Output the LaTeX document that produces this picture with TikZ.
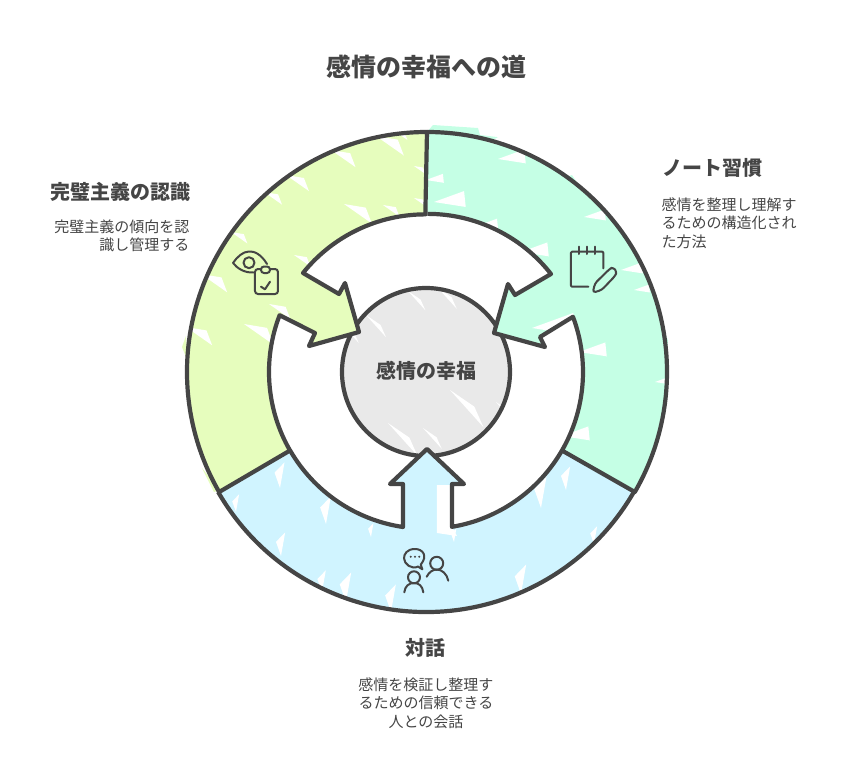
\documentclass[tikz,border=0pt]{standalone}
\usepackage{fontspec}
\setmainfont{Noto Sans CJK JP}
\usetikzlibrary{positioning}
\definecolor{ink}{HTML}{454545}
\definecolor{greenfill}{HTML}{E6FDBD}
\definecolor{mintfill}{HTML}{C5FFE5}
\definecolor{bluefill}{HTML}{D0F4FF}
\definecolor{greyfill}{HTML}{E9E9E9}

\begin{document}
\begin{tikzpicture} [
    x=1pt, y=1pt,                  % One unit is one pixel of the reference
    line join=round,
    ]
% -------------------------------------------------
\tikzset{
  outline/.style={draw=ink, line width=4.2pt},
  icon/.style={draw=ink, line width=2pt, line cap=round},
  title/.style={text=ink, font=\fontsize{25}{30}\selectfont\bfseries},
  head/.style={text=ink, font=\fontsize{20}{24}\selectfont\bfseries},
  body/.style={text=ink, font=\fontsize{15}{18.5}\selectfont},
}
    \useasboundingbox (-426,-408) rectangle (426,372);

% centre circle
    \fill [greyfill] (0,0) circle [radius=84];
    \foreach \x/\y/\l in {24/-18/50, -38/-51/44, -3/-56/28, -60/57/30, -18/81/26, 12/84/28, -78/41/16, 70/-30/20}
      \fill [white] (\x,\y) -- ++(-48:\l) -- ++(114:0.45*\l) -- cycle;
    \node [head] (happy) at (1,1) {感情の幸福};
    \draw [outline] (0,0) circle [radius=84];

% left part
    \fill [greenfill] (1,240) arc [start angle=90, end angle=210, radius=240pt]
      -- (210:157) arc [start angle=210, end angle=158.8, radius=157pt]
      -- (-111,39) -- (-117,26) -- (-67,40) -- (-81,89) -- (-87,78) -- (-123,99)
      arc [start angle=141.2, end angle=90, radius=157pt] -- cycle;
    \fill [greenfill] (-240,36) -- (-244,25) -- (-238,10) -- cycle;
    \fill [greenfill] (-224,-96) -- (-212,-120) -- (-206,-118) -- cycle;
    \foreach \x/\y/\l in {-140/197/28, -95/222/30, -50/236/34, -82/168/34, -162/180/22, -195/140/20,
        -225/98/32, -182/48/36, -240/45/32, -157/68/26, -132/117/20, -43/167/20, -12/206/14, -12/174/14, -30/240/14}
      \fill [white] (\x,\y) -- ++(-35:\l) -- ++(111:0.5*\l) -- cycle;

% right part
    \fill [mintfill] (1,240) arc [start angle=90, end angle=-30, radius=240pt]
      -- (-30:157) arc [start angle=-30, end angle=20.6, radius=157pt]
      -- (114,35) -- (119,25) -- (68,39) -- (82,88) -- (89,77) -- (125,98)
      arc [start angle=38.1, end angle=90, radius=157pt] -- cycle;
    \fill [mintfill] (1,240) -- (7,247) -- (52,244) -- (54,237) -- (71,235) -- (78,225) -- cycle;
    \fill [mintfill] (140,195) -- (146,197) -- (152,188) -- cycle;
    \fill [mintfill] (238,40) -- (242,32) -- (240,10) -- cycle;
    \foreach \x/\y/\l in {8/170/32, 0/192/18, 72/213/28, 40/142/33, 95/120/28, 158/155/22,
        195/102/22, 208/82/16, 153/20/28, 106/44/44, 136/-64/28, 60/230/16, 229/-10/14}
      \fill [white] (\x,\y) -- ++(20:\l) -- ++(-84:0.5*\l) -- cycle;

% bottom part
    \fill [bluefill] (210:240) arc [start angle=210, end angle=330, radius=240pt]
      -- (-30:157) arc [start angle=-30, end angle=-80.5, radius=157pt]
      -- (26,-112) -- (38,-112) -- (1,-77) -- (-36,-112) -- (-23,-112) -- (-23,-155)
      arc [start angle=261.6, end angle=210, radius=157pt] -- cycle;
    \fill [white] (11,-113) -- (26,-113) -- (26,-155) -- (31,-164) -- (11,-161) -- cycle;
    \foreach \x/\y/\l in {-146/-116/26, -100/-152/28, -145/-184/24, -104/-220/22, -80/-230/30,
        -35/-240/28, 95/-222/30, 115/-136/32, 140/-118/24, 28/-170/14, -55/-165/14, 168/-172/18, -190/-140/18}
      \fill [white] (\x,\y) -- ++(80:\l) -- ++(-134:0.55*\l) -- cycle;

% outlines
    \draw [outline] (1,240) arc [start angle=90, end angle=210, radius=240pt]
      -- (210:157) arc [start angle=210, end angle=158.8, radius=157pt]
      -- (-111,39) -- (-117,26) -- (-67,40) -- (-81,89) -- (-87,78) -- (-123,99)
      arc [start angle=141.2, end angle=90, radius=157pt] -- cycle;
    \draw [outline] (1,240) arc [start angle=90, end angle=-30, radius=240pt]
      -- (-30:157) arc [start angle=-30, end angle=20.6, radius=157pt]
      -- (114,35) -- (119,25) -- (68,39) -- (82,88) -- (89,77) -- (125,98)
      arc [start angle=38.1, end angle=90, radius=157pt];
    \draw [outline] (210:240) arc [start angle=210, end angle=330, radius=240pt];
    \draw [outline] (-30:157) arc [start angle=-30, end angle=-80.5, radius=157pt]
      -- (26,-112) -- (38,-112) -- (1,-77) -- (-36,-112) -- (-23,-112) -- (-23,-155)
      arc [start angle=261.6, end angle=210, radius=157pt];

% eye and clipboard
    \draw [icon] (-159,108) .. controls (-165,118) and (-172,121) .. (-177,120.5)
      .. controls (-183,120.5) and (-189,115) .. (-193,109)
      .. controls (-189,104) and (-182,99) .. (-172.5,99.5);
    \draw [icon] (-177,109.3) circle [radius=5.5];
    \draw [icon, rounded corners=3pt] (-165,103) -- (-171,103) -- (-171,78) -- (-148,78) -- (-148,103) -- (-156,103);
    \draw [icon, rounded corners=3pt] (-165,99) rectangle (-156,105.5);
    \draw [icon] (-165,85.3) -- (-161,82.7) -- (-156,90.3);

% notepad and pencil
    \draw [icon, rounded corners=1pt] (162.3,85.3) -- (145,85.3) -- (145,120.3) -- (177.3,120.3) -- (177.3,103.7);
    \foreach \x in {153,160.7,169}
      \draw [icon] (\x,125.3) -- (\x,118);
    \draw [icon, rounded corners=3pt] (166.7,79.3) -- (169,88.7) -- (183.3,102.7) -- (187,105) -- (191,100) -- (189,96) -- (175.7,82) -- cycle;

% speech bubble and people
    \draw [icon] (-3.7,-197.3) -- (-5.2,-192.5) .. controls (2,-184) and (-3,-177) .. (-11,-177)
      .. controls (-19,-177) and (-22,-182) .. (-22,-186.3)
      .. controls (-22,-192) and (-14,-198) .. (-8,-194.5) -- cycle;
    \foreach \x in {-15.3,-11,-6.7}
      \fill [ink] (\x,-184.7) circle [radius=1.1];
    \draw [icon] (10.7,-191.3) circle [radius=6.5];
    \draw [icon] (0.7,-204.7) .. controls (3,-200) and (7,-197.5) .. (10.7,-197.5)
      .. controls (16,-197.5) and (21,-202) .. (22.3,-208.7);
    \draw [icon] (-12,-205.3) circle [radius=6];
    \draw [icon] (-21.7,-220.3) .. controls (-21,-214) and (-17,-211) .. (-12,-211)
      .. controls (-7,-211) and (-3.5,-214) .. (-2.7,-220.3);

% labels
    \node [title] (heading) at (1,305) {感情の幸福への道};
    \node [head, anchor=east] (perfect) at (-232,180) {完璧主義の認識};
    \node [body, anchor=east, align=right] (perfecttext) at (-233,136) {完璧主義の傾向を認\\識し管理する};
    \node [head, anchor=west] (note) at (233,204) {ノート習慣};
    \node [body, anchor=west, align=left] (notetext) at (232,149) {感情を整理し理解す\\るための構造化され\\た方法};
    \node [head] (talk) at (0,-276) {対話};
    \node [body, align=center] (talktext) at (0,-331) {感情を検証し整理す\\るための信頼できる\\人との会話};

\end{tikzpicture}
\end{document}
